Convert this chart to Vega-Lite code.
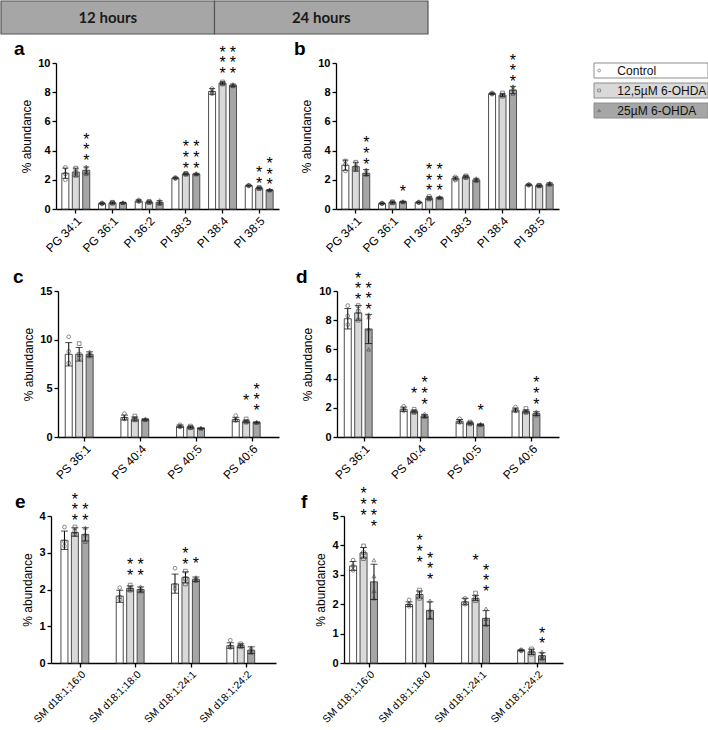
{
"$schema":"https://vega.github.io/schema/vega-lite/v6.json",
"padding":0,
"background":"white",
"config":{
 "font":"Liberation Sans",
 "view":{"stroke":null},
 "axis":{"domainColor":"#000","domainWidth":1.3,"tickColor":"#000","tickWidth":1.3,"tickSize":4,"labelColor":"#000","titleColor":"#000","grid":false,"titleFontWeight":"normal","titleFontSize":12,"labelPadding":2,"labelFont":"Liberation Sans","titleFont":"Liberation Sans"},
 "axisY":{"labelFontWeight":"bold","labelFontSize":11,"titlePadding":4},
 "axisX":{"labelAngle":-45,"labelFontSize":12},
 "title":{"font":"Liberation Sans","fontSize":19,"fontWeight":"bold","color":"#000","anchor":"start","frame":"group","baseline":"alphabetic","offset":0}
},
"datasets":{
"bars":[
{"p":"a","c":"PG 34:1","g":"C","m":2.45,"lo":2.1,"hi":2.8},{"p":"a","c":"PG 34:1","g":"L","m":2.53,"lo":2.25,"hi":2.8},{"p":"a","c":"PG 34:1","g":"H","m":2.65,"lo":2.4,"hi":2.88},
{"p":"a","c":"PG 36:1","g":"C","m":0.38,"lo":0.33,"hi":0.43},{"p":"a","c":"PG 36:1","g":"L","m":0.42,"lo":0.37,"hi":0.47},{"p":"a","c":"PG 36:1","g":"H","m":0.43,"lo":0.4,"hi":0.46},
{"p":"a","c":"PI 36:2","g":"C","m":0.55,"lo":0.47,"hi":0.63},{"p":"a","c":"PI 36:2","g":"L","m":0.47,"lo":0.41,"hi":0.53},{"p":"a","c":"PI 36:2","g":"H","m":0.45,"lo":0.33,"hi":0.57},
{"p":"a","c":"PI 38:3","g":"C","m":2.12,"lo":2.07,"hi":2.17},{"p":"a","c":"PI 38:3","g":"L","m":2.4,"lo":2.35,"hi":2.45},{"p":"a","c":"PI 38:3","g":"H","m":2.4,"lo":2.35,"hi":2.45},
{"p":"a","c":"PI 38:4","g":"C","m":8.05,"lo":7.85,"hi":8.25},{"p":"a","c":"PI 38:4","g":"L","m":8.62,"lo":8.54,"hi":8.7},{"p":"a","c":"PI 38:4","g":"H","m":8.48,"lo":8.4,"hi":8.56},
{"p":"a","c":"PI 38:5","g":"C","m":1.6,"lo":1.56,"hi":1.64},{"p":"a","c":"PI 38:5","g":"L","m":1.43,"lo":1.38,"hi":1.48},{"p":"a","c":"PI 38:5","g":"H","m":1.3,"lo":1.26,"hi":1.34},
{"p":"b","c":"PG 34:1","g":"C","m":3.0,"lo":2.65,"hi":3.35},{"p":"b","c":"PG 34:1","g":"L","m":2.9,"lo":2.6,"hi":3.2},{"p":"b","c":"PG 34:1","g":"H","m":2.45,"lo":2.3,"hi":2.7},
{"p":"b","c":"PG 36:1","g":"C","m":0.38,"lo":0.34,"hi":0.42},{"p":"b","c":"PG 36:1","g":"L","m":0.45,"lo":0.4,"hi":0.5},{"p":"b","c":"PG 36:1","g":"H","m":0.5,"lo":0.46,"hi":0.54},
{"p":"b","c":"PI 36:2","g":"C","m":0.45,"lo":0.41,"hi":0.49},{"p":"b","c":"PI 36:2","g":"L","m":0.75,"lo":0.66,"hi":0.84},{"p":"b","c":"PI 36:2","g":"H","m":0.78,"lo":0.73,"hi":0.83},
{"p":"b","c":"PI 38:3","g":"C","m":2.1,"lo":2.0,"hi":2.2},{"p":"b","c":"PI 38:3","g":"L","m":2.2,"lo":2.13,"hi":2.27},{"p":"b","c":"PI 38:3","g":"H","m":2.0,"lo":1.9,"hi":2.1},
{"p":"b","c":"PI 38:4","g":"C","m":7.9,"lo":7.85,"hi":7.95},{"p":"b","c":"PI 38:4","g":"L","m":7.8,"lo":7.7,"hi":7.9},{"p":"b","c":"PI 38:4","g":"H","m":8.15,"lo":7.9,"hi":8.4},
{"p":"b","c":"PI 38:5","g":"C","m":1.65,"lo":1.6,"hi":1.7},{"p":"b","c":"PI 38:5","g":"L","m":1.6,"lo":1.55,"hi":1.65},{"p":"b","c":"PI 38:5","g":"H","m":1.72,"lo":1.64,"hi":1.8},
{"p":"c","c":"PS 36:1","g":"C","m":8.5,"lo":7.3,"hi":9.7},{"p":"c","c":"PS 36:1","g":"L","m":8.5,"lo":7.8,"hi":9.2},{"p":"c","c":"PS 36:1","g":"H","m":8.5,"lo":8.25,"hi":8.75},
{"p":"c","c":"PS 40:4","g":"C","m":2.0,"lo":1.75,"hi":2.25},{"p":"c","c":"PS 40:4","g":"L","m":1.85,"lo":1.65,"hi":2.05},{"p":"c","c":"PS 40:4","g":"H","m":1.8,"lo":1.72,"hi":1.88},
{"p":"c","c":"PS 40:5","g":"C","m":1.1,"lo":0.97,"hi":1.23},{"p":"c","c":"PS 40:5","g":"L","m":1.0,"lo":0.9,"hi":1.1},{"p":"c","c":"PS 40:5","g":"H","m":0.9,"lo":0.86,"hi":0.94},
{"p":"c","c":"PS 40:6","g":"C","m":1.8,"lo":1.58,"hi":2.02},{"p":"c","c":"PS 40:6","g":"L","m":1.6,"lo":1.47,"hi":1.73},{"p":"c","c":"PS 40:6","g":"H","m":1.5,"lo":1.44,"hi":1.56},
{"p":"d","c":"PS 36:1","g":"C","m":8.1,"lo":7.4,"hi":8.8},{"p":"d","c":"PS 36:1","g":"L","m":8.5,"lo":8.0,"hi":9.0},{"p":"d","c":"PS 36:1","g":"H","m":7.4,"lo":6.4,"hi":8.4},
{"p":"d","c":"PS 40:4","g":"C","m":1.9,"lo":1.75,"hi":2.05},{"p":"d","c":"PS 40:4","g":"L","m":1.75,"lo":1.66,"hi":1.84},{"p":"d","c":"PS 40:4","g":"H","m":1.45,"lo":1.35,"hi":1.55},
{"p":"d","c":"PS 40:5","g":"C","m":1.08,"lo":0.95,"hi":1.2},{"p":"d","c":"PS 40:5","g":"L","m":0.95,"lo":0.88,"hi":1.02},{"p":"d","c":"PS 40:5","g":"H","m":0.85,"lo":0.8,"hi":0.9},
{"p":"d","c":"PS 40:6","g":"C","m":1.85,"lo":1.72,"hi":1.98},{"p":"d","c":"PS 40:6","g":"L","m":1.75,"lo":1.65,"hi":1.85},{"p":"d","c":"PS 40:6","g":"H","m":1.6,"lo":1.47,"hi":1.73},
{"p":"e","c":"SM d18:1;16:0","g":"C","m":3.34,"lo":3.09,"hi":3.59},{"p":"e","c":"SM d18:1;16:0","g":"L","m":3.55,"lo":3.45,"hi":3.68},{"p":"e","c":"SM d18:1;16:0","g":"H","m":3.5,"lo":3.32,"hi":3.68},
{"p":"e","c":"SM d18:1;18:0","g":"C","m":1.82,"lo":1.65,"hi":1.98},{"p":"e","c":"SM d18:1;18:0","g":"L","m":2.03,"lo":1.96,"hi":2.1},{"p":"e","c":"SM d18:1;18:0","g":"H","m":2.0,"lo":1.93,"hi":2.07},
{"p":"e","c":"SM d18:1;24:1","g":"C","m":2.15,"lo":1.9,"hi":2.42},{"p":"e","c":"SM d18:1;24:1","g":"L","m":2.33,"lo":2.18,"hi":2.48},{"p":"e","c":"SM d18:1;24:1","g":"H","m":2.28,"lo":2.22,"hi":2.34},
{"p":"e","c":"SM d18:1;24:2","g":"C","m":0.47,"lo":0.4,"hi":0.55},{"p":"e","c":"SM d18:1;24:2","g":"L","m":0.47,"lo":0.42,"hi":0.52},{"p":"e","c":"SM d18:1;24:2","g":"H","m":0.35,"lo":0.26,"hi":0.44},
{"p":"f","c":"SM d18:1;16:0","g":"C","m":3.3,"lo":3.15,"hi":3.45},{"p":"f","c":"SM d18:1;16:0","g":"L","m":3.75,"lo":3.57,"hi":3.93},{"p":"f","c":"SM d18:1;16:0","g":"H","m":2.76,"lo":2.16,"hi":3.36},
{"p":"f","c":"SM d18:1;18:0","g":"C","m":1.99,"lo":1.92,"hi":2.08},{"p":"f","c":"SM d18:1;18:0","g":"L","m":2.33,"lo":2.21,"hi":2.45},{"p":"f","c":"SM d18:1;18:0","g":"H","m":1.79,"lo":1.5,"hi":2.08},
{"p":"f","c":"SM d18:1;24:1","g":"C","m":2.08,"lo":1.98,"hi":2.2},{"p":"f","c":"SM d18:1;24:1","g":"L","m":2.2,"lo":2.12,"hi":2.3},{"p":"f","c":"SM d18:1;24:1","g":"H","m":1.52,"lo":1.28,"hi":1.78},
{"p":"f","c":"SM d18:1;24:2","g":"C","m":0.43,"lo":0.41,"hi":0.45},{"p":"f","c":"SM d18:1;24:2","g":"L","m":0.38,"lo":0.29,"hi":0.47},{"p":"f","c":"SM d18:1;24:2","g":"H","m":0.25,"lo":0.13,"hi":0.35}
],
"pts":[
{"p":"a","c":"PG 34:1","g":"C","v":2.85},{"p":"a","c":"PG 34:1","g":"C","v":2.4},{"p":"a","c":"PG 34:1","g":"C","v":2.0},
{"p":"a","c":"PG 34:1","g":"L","v":2.8},{"p":"a","c":"PG 34:1","g":"L","v":2.5},{"p":"a","c":"PG 34:1","g":"L","v":2.3},
{"p":"a","c":"PG 34:1","g":"H","v":2.9},{"p":"a","c":"PG 34:1","g":"H","v":2.6},{"p":"a","c":"PG 34:1","g":"H","v":2.4},
{"p":"a","c":"PG 36:1","g":"C","v":0.42},{"p":"a","c":"PG 36:1","g":"C","v":0.35},{"p":"a","c":"PG 36:1","g":"C","v":0.38},
{"p":"a","c":"PG 36:1","g":"L","v":0.46},{"p":"a","c":"PG 36:1","g":"L","v":0.4},{"p":"a","c":"PG 36:1","g":"L","v":0.42},
{"p":"a","c":"PG 36:1","g":"H","v":0.46},{"p":"a","c":"PG 36:1","g":"H","v":0.42},{"p":"a","c":"PG 36:1","g":"H","v":0.43},
{"p":"a","c":"PI 36:2","g":"C","v":0.62},{"p":"a","c":"PI 36:2","g":"C","v":0.5},{"p":"a","c":"PI 36:2","g":"C","v":0.55},
{"p":"a","c":"PI 36:2","g":"L","v":0.52},{"p":"a","c":"PI 36:2","g":"L","v":0.44},{"p":"a","c":"PI 36:2","g":"L","v":0.47},
{"p":"a","c":"PI 36:2","g":"H","v":0.6},{"p":"a","c":"PI 36:2","g":"H","v":0.45},{"p":"a","c":"PI 36:2","g":"H","v":0.35},
{"p":"a","c":"PI 38:3","g":"C","v":2.16},{"p":"a","c":"PI 38:3","g":"C","v":2.1},{"p":"a","c":"PI 38:3","g":"C","v":2.1},
{"p":"a","c":"PI 38:3","g":"L","v":2.44},{"p":"a","c":"PI 38:3","g":"L","v":2.38},{"p":"a","c":"PI 38:3","g":"L","v":2.4},
{"p":"a","c":"PI 38:3","g":"H","v":2.45},{"p":"a","c":"PI 38:3","g":"H","v":2.38},{"p":"a","c":"PI 38:3","g":"H","v":2.4},
{"p":"a","c":"PI 38:4","g":"C","v":8.25},{"p":"a","c":"PI 38:4","g":"C","v":8.0},{"p":"a","c":"PI 38:4","g":"C","v":7.9},
{"p":"a","c":"PI 38:4","g":"L","v":8.7},{"p":"a","c":"PI 38:4","g":"L","v":8.6},{"p":"a","c":"PI 38:4","g":"L","v":8.56},
{"p":"a","c":"PI 38:4","g":"H","v":8.55},{"p":"a","c":"PI 38:4","g":"H","v":8.45},{"p":"a","c":"PI 38:4","g":"H","v":8.42},
{"p":"a","c":"PI 38:5","g":"C","v":1.63},{"p":"a","c":"PI 38:5","g":"C","v":1.58},{"p":"a","c":"PI 38:5","g":"C","v":1.6},
{"p":"a","c":"PI 38:5","g":"L","v":1.48},{"p":"a","c":"PI 38:5","g":"L","v":1.4},{"p":"a","c":"PI 38:5","g":"L","v":1.42},
{"p":"a","c":"PI 38:5","g":"H","v":1.33},{"p":"a","c":"PI 38:5","g":"H","v":1.28},{"p":"a","c":"PI 38:5","g":"H","v":1.3},
{"p":"b","c":"PG 34:1","g":"C","v":3.3},{"p":"b","c":"PG 34:1","g":"C","v":3.05},{"p":"b","c":"PG 34:1","g":"C","v":2.6},
{"p":"b","c":"PG 34:1","g":"L","v":3.2},{"p":"b","c":"PG 34:1","g":"L","v":2.85},{"p":"b","c":"PG 34:1","g":"L","v":2.7},
{"p":"b","c":"PG 34:1","g":"H","v":2.7},{"p":"b","c":"PG 34:1","g":"H","v":2.5},{"p":"b","c":"PG 34:1","g":"H","v":2.35},
{"p":"b","c":"PG 36:1","g":"C","v":0.41},{"p":"b","c":"PG 36:1","g":"C","v":0.37},{"p":"b","c":"PG 36:1","g":"C","v":0.36},
{"p":"b","c":"PG 36:1","g":"L","v":0.5},{"p":"b","c":"PG 36:1","g":"L","v":0.44},{"p":"b","c":"PG 36:1","g":"L","v":0.42},
{"p":"b","c":"PG 36:1","g":"H","v":0.53},{"p":"b","c":"PG 36:1","g":"H","v":0.5},{"p":"b","c":"PG 36:1","g":"H","v":0.47},
{"p":"b","c":"PI 36:2","g":"C","v":0.48},{"p":"b","c":"PI 36:2","g":"C","v":0.44},{"p":"b","c":"PI 36:2","g":"C","v":0.43},
{"p":"b","c":"PI 36:2","g":"L","v":0.85},{"p":"b","c":"PI 36:2","g":"L","v":0.72},{"p":"b","c":"PI 36:2","g":"L","v":0.68},
{"p":"b","c":"PI 36:2","g":"H","v":0.82},{"p":"b","c":"PI 36:2","g":"H","v":0.78},{"p":"b","c":"PI 36:2","g":"H","v":0.75},
{"p":"b","c":"PI 38:3","g":"C","v":2.2},{"p":"b","c":"PI 38:3","g":"C","v":2.05},{"p":"b","c":"PI 38:3","g":"C","v":1.98},
{"p":"b","c":"PI 38:3","g":"L","v":2.27},{"p":"b","c":"PI 38:3","g":"L","v":2.2},{"p":"b","c":"PI 38:3","g":"L","v":2.15},
{"p":"b","c":"PI 38:3","g":"H","v":2.1},{"p":"b","c":"PI 38:3","g":"H","v":2.0},{"p":"b","c":"PI 38:3","g":"H","v":1.92},
{"p":"b","c":"PI 38:4","g":"C","v":7.95},{"p":"b","c":"PI 38:4","g":"C","v":7.9},{"p":"b","c":"PI 38:4","g":"C","v":7.86},
{"p":"b","c":"PI 38:4","g":"L","v":7.95},{"p":"b","c":"PI 38:4","g":"L","v":7.8},{"p":"b","c":"PI 38:4","g":"L","v":7.72},
{"p":"b","c":"PI 38:4","g":"H","v":8.4},{"p":"b","c":"PI 38:4","g":"H","v":8.2},{"p":"b","c":"PI 38:4","g":"H","v":7.9},
{"p":"b","c":"PI 38:5","g":"C","v":1.68},{"p":"b","c":"PI 38:5","g":"C","v":1.63},{"p":"b","c":"PI 38:5","g":"C","v":1.65},
{"p":"b","c":"PI 38:5","g":"L","v":1.63},{"p":"b","c":"PI 38:5","g":"L","v":1.58},{"p":"b","c":"PI 38:5","g":"L","v":1.6},
{"p":"b","c":"PI 38:5","g":"H","v":1.8},{"p":"b","c":"PI 38:5","g":"H","v":1.7},{"p":"b","c":"PI 38:5","g":"H","v":1.68},
{"p":"c","c":"PS 36:1","g":"C","v":10.3},{"p":"c","c":"PS 36:1","g":"C","v":8.8},{"p":"c","c":"PS 36:1","g":"C","v":7.6},
{"p":"c","c":"PS 36:1","g":"L","v":9.6},{"p":"c","c":"PS 36:1","g":"L","v":8.5},{"p":"c","c":"PS 36:1","g":"L","v":8.1},
{"p":"c","c":"PS 36:1","g":"H","v":8.75},{"p":"c","c":"PS 36:1","g":"H","v":8.55},{"p":"c","c":"PS 36:1","g":"H","v":8.3},
{"p":"c","c":"PS 40:4","g":"C","v":2.4},{"p":"c","c":"PS 40:4","g":"C","v":1.9},{"p":"c","c":"PS 40:4","g":"C","v":1.85},
{"p":"c","c":"PS 40:4","g":"L","v":2.15},{"p":"c","c":"PS 40:4","g":"L","v":1.9},{"p":"c","c":"PS 40:4","g":"L","v":1.75},
{"p":"c","c":"PS 40:4","g":"H","v":1.88},{"p":"c","c":"PS 40:4","g":"H","v":1.8},{"p":"c","c":"PS 40:4","g":"H","v":1.75},
{"p":"c","c":"PS 40:5","g":"C","v":1.25},{"p":"c","c":"PS 40:5","g":"C","v":1.1},{"p":"c","c":"PS 40:5","g":"C","v":1.02},
{"p":"c","c":"PS 40:5","g":"L","v":1.12},{"p":"c","c":"PS 40:5","g":"L","v":0.98},{"p":"c","c":"PS 40:5","g":"L","v":0.95},
{"p":"c","c":"PS 40:5","g":"H","v":0.93},{"p":"c","c":"PS 40:5","g":"H","v":0.9},{"p":"c","c":"PS 40:5","g":"H","v":0.88},
{"p":"c","c":"PS 40:6","g":"C","v":2.2},{"p":"c","c":"PS 40:6","g":"C","v":1.75},{"p":"c","c":"PS 40:6","g":"C","v":1.7},
{"p":"c","c":"PS 40:6","g":"L","v":1.85},{"p":"c","c":"PS 40:6","g":"L","v":1.6},{"p":"c","c":"PS 40:6","g":"L","v":1.52},
{"p":"c","c":"PS 40:6","g":"H","v":1.55},{"p":"c","c":"PS 40:6","g":"H","v":1.5},{"p":"c","c":"PS 40:6","g":"H","v":1.47},
{"p":"d","c":"PS 36:1","g":"C","v":9.0},{"p":"d","c":"PS 36:1","g":"C","v":8.3},{"p":"d","c":"PS 36:1","g":"C","v":7.7},
{"p":"d","c":"PS 36:1","g":"L","v":9.0},{"p":"d","c":"PS 36:1","g":"L","v":8.6},{"p":"d","c":"PS 36:1","g":"L","v":8.0},
{"p":"d","c":"PS 36:1","g":"H","v":8.4},{"p":"d","c":"PS 36:1","g":"H","v":8.2},{"p":"d","c":"PS 36:1","g":"H","v":7.4},{"p":"d","c":"PS 36:1","g":"H","v":6.0},
{"p":"d","c":"PS 40:4","g":"C","v":2.1},{"p":"d","c":"PS 40:4","g":"C","v":1.9},{"p":"d","c":"PS 40:4","g":"C","v":1.8},
{"p":"d","c":"PS 40:4","g":"L","v":1.9},{"p":"d","c":"PS 40:4","g":"L","v":1.75},{"p":"d","c":"PS 40:4","g":"L","v":1.68},
{"p":"d","c":"PS 40:4","g":"H","v":1.6},{"p":"d","c":"PS 40:4","g":"H","v":1.45},{"p":"d","c":"PS 40:4","g":"H","v":1.38},
{"p":"d","c":"PS 40:5","g":"C","v":1.25},{"p":"d","c":"PS 40:5","g":"C","v":1.05},{"p":"d","c":"PS 40:5","g":"C","v":1.0},
{"p":"d","c":"PS 40:5","g":"L","v":1.02},{"p":"d","c":"PS 40:5","g":"L","v":0.95},{"p":"d","c":"PS 40:5","g":"L","v":0.9},
{"p":"d","c":"PS 40:5","g":"H","v":0.9},{"p":"d","c":"PS 40:5","g":"H","v":0.85},{"p":"d","c":"PS 40:5","g":"H","v":0.82},
{"p":"d","c":"PS 40:6","g":"C","v":2.05},{"p":"d","c":"PS 40:6","g":"C","v":1.85},{"p":"d","c":"PS 40:6","g":"C","v":1.78},
{"p":"d","c":"PS 40:6","g":"L","v":1.95},{"p":"d","c":"PS 40:6","g":"L","v":1.75},{"p":"d","c":"PS 40:6","g":"L","v":1.68},
{"p":"d","c":"PS 40:6","g":"H","v":1.75},{"p":"d","c":"PS 40:6","g":"H","v":1.6},{"p":"d","c":"PS 40:6","g":"H","v":1.48},
{"p":"e","c":"SM d18:1;16:0","g":"C","v":3.7},{"p":"e","c":"SM d18:1;16:0","g":"C","v":3.3},{"p":"e","c":"SM d18:1;16:0","g":"C","v":3.18},
{"p":"e","c":"SM d18:1;16:0","g":"L","v":3.7},{"p":"e","c":"SM d18:1;16:0","g":"L","v":3.58},{"p":"e","c":"SM d18:1;16:0","g":"L","v":3.5},
{"p":"e","c":"SM d18:1;16:0","g":"H","v":3.68},{"p":"e","c":"SM d18:1;16:0","g":"H","v":3.5},{"p":"e","c":"SM d18:1;16:0","g":"H","v":3.3},
{"p":"e","c":"SM d18:1;18:0","g":"C","v":2.05},{"p":"e","c":"SM d18:1;18:0","g":"C","v":1.8},{"p":"e","c":"SM d18:1;18:0","g":"C","v":1.72},
{"p":"e","c":"SM d18:1;18:0","g":"L","v":2.12},{"p":"e","c":"SM d18:1;18:0","g":"L","v":2.03},{"p":"e","c":"SM d18:1;18:0","g":"L","v":1.98},
{"p":"e","c":"SM d18:1;18:0","g":"H","v":2.08},{"p":"e","c":"SM d18:1;18:0","g":"H","v":2.0},{"p":"e","c":"SM d18:1;18:0","g":"H","v":1.95},
{"p":"e","c":"SM d18:1;24:1","g":"C","v":2.58},{"p":"e","c":"SM d18:1;24:1","g":"C","v":2.12},{"p":"e","c":"SM d18:1;24:1","g":"C","v":2.02},
{"p":"e","c":"SM d18:1;24:1","g":"L","v":2.5},{"p":"e","c":"SM d18:1;24:1","g":"L","v":2.3},{"p":"e","c":"SM d18:1;24:1","g":"L","v":2.15},
{"p":"e","c":"SM d18:1;24:1","g":"H","v":2.33},{"p":"e","c":"SM d18:1;24:1","g":"H","v":2.28},{"p":"e","c":"SM d18:1;24:1","g":"H","v":2.24},
{"p":"e","c":"SM d18:1;24:2","g":"C","v":0.62},{"p":"e","c":"SM d18:1;24:2","g":"C","v":0.45},{"p":"e","c":"SM d18:1;24:2","g":"C","v":0.42},
{"p":"e","c":"SM d18:1;24:2","g":"L","v":0.52},{"p":"e","c":"SM d18:1;24:2","g":"L","v":0.47},{"p":"e","c":"SM d18:1;24:2","g":"L","v":0.44},
{"p":"e","c":"SM d18:1;24:2","g":"H","v":0.42},{"p":"e","c":"SM d18:1;24:2","g":"H","v":0.35},{"p":"e","c":"SM d18:1;24:2","g":"H","v":0.28},
{"p":"f","c":"SM d18:1;16:0","g":"C","v":3.5},{"p":"f","c":"SM d18:1;16:0","g":"C","v":3.3},{"p":"f","c":"SM d18:1;16:0","g":"C","v":3.15},
{"p":"f","c":"SM d18:1;16:0","g":"L","v":3.98},{"p":"f","c":"SM d18:1;16:0","g":"L","v":3.75},{"p":"f","c":"SM d18:1;16:0","g":"L","v":3.55},
{"p":"f","c":"SM d18:1;16:0","g":"H","v":3.5},{"p":"f","c":"SM d18:1;16:0","g":"H","v":2.95},{"p":"f","c":"SM d18:1;16:0","g":"H","v":2.45},{"p":"f","c":"SM d18:1;16:0","g":"H","v":2.2},
{"p":"f","c":"SM d18:1;18:0","g":"C","v":2.15},{"p":"f","c":"SM d18:1;18:0","g":"C","v":2.0},{"p":"f","c":"SM d18:1;18:0","g":"C","v":1.93},
{"p":"f","c":"SM d18:1;18:0","g":"L","v":2.48},{"p":"f","c":"SM d18:1;18:0","g":"L","v":2.35},{"p":"f","c":"SM d18:1;18:0","g":"L","v":2.2},
{"p":"f","c":"SM d18:1;18:0","g":"H","v":2.12},{"p":"f","c":"SM d18:1;18:0","g":"H","v":1.8},{"p":"f","c":"SM d18:1;18:0","g":"H","v":1.55},
{"p":"f","c":"SM d18:1;24:1","g":"C","v":2.2},{"p":"f","c":"SM d18:1;24:1","g":"C","v":2.05},{"p":"f","c":"SM d18:1;24:1","g":"C","v":2.0},
{"p":"f","c":"SM d18:1;24:1","g":"L","v":2.38},{"p":"f","c":"SM d18:1;24:1","g":"L","v":2.2},{"p":"f","c":"SM d18:1;24:1","g":"L","v":2.12},
{"p":"f","c":"SM d18:1;24:1","g":"H","v":1.85},{"p":"f","c":"SM d18:1;24:1","g":"H","v":1.5},{"p":"f","c":"SM d18:1;24:1","g":"H","v":1.3},
{"p":"f","c":"SM d18:1;24:2","g":"C","v":0.45},{"p":"f","c":"SM d18:1;24:2","g":"C","v":0.43},{"p":"f","c":"SM d18:1;24:2","g":"C","v":0.41},
{"p":"f","c":"SM d18:1;24:2","g":"L","v":0.48},{"p":"f","c":"SM d18:1;24:2","g":"L","v":0.4},{"p":"f","c":"SM d18:1;24:2","g":"L","v":0.3},
{"p":"f","c":"SM d18:1;24:2","g":"H","v":0.38},{"p":"f","c":"SM d18:1;24:2","g":"H","v":0.25},{"p":"f","c":"SM d18:1;24:2","g":"H","v":0.15}
],
"stars":[
{"p":"a","c":"PG 34:1","g":"H","s":"*\n*\n*","sy":5.03},
{"p":"a","c":"PI 38:3","g":"L","s":"*\n*\n*","sy":4.5},{"p":"a","c":"PI 38:3","g":"H","s":"*\n*\n*","sy":4.5},
{"p":"a","c":"PI 38:4","g":"L","s":"*\n*\n*","sy":10.99},{"p":"a","c":"PI 38:4","g":"H","s":"*\n*\n*","sy":10.99},
{"p":"a","c":"PI 38:5","g":"L","s":"*\n*","sy":2.73},{"p":"a","c":"PI 38:5","g":"H","s":"*\n*\n*","sy":3.37},
{"p":"b","c":"PG 34:1","g":"H","s":"*\n*\n*","sy":4.78},{"p":"b","c":"PG 36:1","g":"H","s":"*","sy":1.44},
{"p":"b","c":"PI 36:2","g":"L","s":"*\n*\n*","sy":2.95},{"p":"b","c":"PI 36:2","g":"H","s":"*\n*\n*","sy":2.95},
{"p":"b","c":"PI 38:4","g":"H","s":"*\n*\n*","sy":10.44},
{"p":"c","c":"PS 40:6","g":"L","s":"*","sy":4.14},{"p":"c","c":"PS 40:6","g":"H","s":"*\n*\n*","sy":5.27},
{"p":"d","c":"PS 36:1","g":"L","s":"*\n*\n*","sy":11.13},{"p":"d","c":"PS 36:1","g":"H","s":"*\n*\n*","sy":10.44},
{"p":"d","c":"PS 40:4","g":"L","s":"*","sy":3.2},{"p":"d","c":"PS 40:4","g":"H","s":"*\n*\n*","sy":3.94},
{"p":"d","c":"PS 40:5","g":"H","s":"*","sy":2.08},{"p":"d","c":"PS 40:6","g":"H","s":"*\n*\n*","sy":3.94},
{"p":"e","c":"SM d18:1;16:0","g":"L","s":"*\n*\n*","sy":4.55},{"p":"e","c":"SM d18:1;16:0","g":"H","s":"*\n*","sy":4.26},
{"p":"e","c":"SM d18:1;18:0","g":"L","s":"*\n*","sy":2.77},{"p":"e","c":"SM d18:1;18:0","g":"H","s":"*\n*","sy":2.77},
{"p":"e","c":"SM d18:1;24:1","g":"L","s":"*\n*","sy":3.08},{"p":"e","c":"SM d18:1;24:1","g":"H","s":"*","sy":2.79},
{"p":"f","c":"SM d18:1;16:0","g":"L","s":"*\n*\n*","sy":5.87},{"p":"f","c":"SM d18:1;16:0","g":"H","s":"*\n*\n*","sy":5.5},
{"p":"f","c":"SM d18:1;18:0","g":"L","s":"*\n*\n*","sy":4.28},{"p":"f","c":"SM d18:1;18:0","g":"H","s":"*\n*\n*","sy":3.69},
{"p":"f","c":"SM d18:1;24:1","g":"L","s":"*","sy":3.6},{"p":"f","c":"SM d18:1;24:1","g":"H","s":"*\n*\n*","sy":3.28},
{"p":"f","c":"SM d18:1;24:2","g":"H","s":"*\n*","sy":1.13}
]
},
"spacing":5,
"vconcat":[
{"width":427,"height":33,
 "data":{"values":[{"h":"12 hours"},{"h":"24 hours"}]},
 "encoding":{"x":{"field":"h","type":"nominal","scale":{"paddingInner":0,"paddingOuter":0},"axis":null}},
 "layer":[
  {"mark":{"type":"rect","fill":"#a6a6a6","stroke":"#555555","strokeWidth":1.2}},
  {"mark":{"type":"text","font":"Lato","fontSize":15,"fontWeight":"bold","color":"#1a1a1a","baseline":"middle"},"encoding":{"text":{"field":"h"}}}
 ]},
{"spacing":14,"vconcat":[
 {"bounds":"flush","spacing":0,"hconcat":[
  {"width":55,"height":1,"data":{"values":[]},"mark":"point","title":{"text":"a","dx":13}},
  {"width":223,"height":146,
   "encoding":{"x":{"field":"c","type":"nominal","title":null,"scale":{"paddingInner":0.24,"paddingOuter":0.16}},
    "xOffset":{"field":"g","type":"nominal","scale":{"domain":["C","L","H"],"paddingInner":0.33,"paddingOuter":0}}},
   "layer":[
    {"data":{"name":"bars"},"transform":[{"filter":"datum.p=='a'"}],"mark":{"type":"bar","stroke":"#4d4d4d","strokeWidth":1},
     "encoding":{"y":{"field":"m","type":"quantitative","scale":{"domain":[0,10],"nice":false},"axis":{"title":"% abundance","values":[0,2,4,6,8,10]}},
      "fill":{"field":"g","type":"nominal","scale":{"domain":["C","L","H"],"range":["#ffffff","#d9d9d9","#a6a6a6"]},"legend":null}}},
    {"data":{"name":"bars"},"transform":[{"filter":"datum.p=='a'"}],"mark":{"type":"rule","color":"#000","strokeWidth":1},
     "encoding":{"y":{"field":"lo","type":"quantitative","scale":{"domain":[0,10],"nice":false},"axis":{"title":"% abundance","values":[0,2,4,6,8,10]}},"y2":{"field":"hi"}}},
    {"data":{"name":"bars"},"transform":[{"filter":"datum.p=='a'"}],"mark":{"type":"tick","color":"#000","thickness":1,"size":6},
     "encoding":{"y":{"field":"lo","type":"quantitative","scale":{"domain":[0,10],"nice":false},"axis":{"title":"% abundance","values":[0,2,4,6,8,10]}}}},
    {"data":{"name":"bars"},"transform":[{"filter":"datum.p=='a'"}],"mark":{"type":"tick","color":"#000","thickness":1,"size":6},
     "encoding":{"y":{"field":"hi","type":"quantitative","scale":{"domain":[0,10],"nice":false},"axis":{"title":"% abundance","values":[0,2,4,6,8,10]}}}},
    {"data":{"name":"pts"},"transform":[{"filter":"datum.p=='a'"}],"mark":{"type":"point","filled":false,"size":14,"strokeWidth":0.8,"color":"#333"},
     "encoding":{"y":{"field":"v","type":"quantitative","scale":{"domain":[0,10],"nice":false},"axis":{"title":"% abundance","values":[0,2,4,6,8,10]}},
      "shape":{"field":"g","type":"nominal","scale":{"domain":["C","L","H"],"range":["circle","square","triangle-up"]},"legend":null}}},
    {"data":{"name":"stars"},"transform":[{"filter":"datum.p=='a'"}],"mark":{"type":"text","lineBreak":"\n","lineHeight":10.7,"baseline":"alphabetic","fontSize":16,"dy":9,"color":"#000"},
     "encoding":{"y":{"field":"sy","type":"quantitative","scale":{"domain":[0,10],"nice":false},"axis":{"title":"% abundance","values":[0,2,4,6,8,10]}},"text":{"field":"s"}}}
   ]},
  {"width":57,"height":1,"data":{"values":[]},"mark":"point","title":{"text":"b","dx":15}},
  {"width":223,"height":146,
   "encoding":{"x":{"field":"c","type":"nominal","title":null,"scale":{"paddingInner":0.24,"paddingOuter":0.16}},
    "xOffset":{"field":"g","type":"nominal","scale":{"domain":["C","L","H"],"paddingInner":0.33,"paddingOuter":0}}},
   "layer":[
    {"data":{"name":"bars"},"transform":[{"filter":"datum.p=='b'"}],"mark":{"type":"bar","stroke":"#4d4d4d","strokeWidth":1},
     "encoding":{"y":{"field":"m","type":"quantitative","scale":{"domain":[0,10],"nice":false},"axis":{"title":"% abundance","values":[0,2,4,6,8,10]}},
      "fill":{"field":"g","type":"nominal","scale":{"domain":["C","L","H"],"range":["#ffffff","#d9d9d9","#a6a6a6"]},"legend":null}}},
    {"data":{"name":"bars"},"transform":[{"filter":"datum.p=='b'"}],"mark":{"type":"rule","color":"#000","strokeWidth":1},
     "encoding":{"y":{"field":"lo","type":"quantitative","scale":{"domain":[0,10],"nice":false},"axis":{"title":"% abundance","values":[0,2,4,6,8,10]}},"y2":{"field":"hi"}}},
    {"data":{"name":"bars"},"transform":[{"filter":"datum.p=='b'"}],"mark":{"type":"tick","color":"#000","thickness":1,"size":6},
     "encoding":{"y":{"field":"lo","type":"quantitative","scale":{"domain":[0,10],"nice":false},"axis":{"title":"% abundance","values":[0,2,4,6,8,10]}}}},
    {"data":{"name":"bars"},"transform":[{"filter":"datum.p=='b'"}],"mark":{"type":"tick","color":"#000","thickness":1,"size":6},
     "encoding":{"y":{"field":"hi","type":"quantitative","scale":{"domain":[0,10],"nice":false},"axis":{"title":"% abundance","values":[0,2,4,6,8,10]}}}},
    {"data":{"name":"pts"},"transform":[{"filter":"datum.p=='b'"}],"mark":{"type":"point","filled":false,"size":14,"strokeWidth":0.8,"color":"#333"},
     "encoding":{"y":{"field":"v","type":"quantitative","scale":{"domain":[0,10],"nice":false},"axis":{"title":"% abundance","values":[0,2,4,6,8,10]}},
      "shape":{"field":"g","type":"nominal","scale":{"domain":["C","L","H"],"range":["circle","square","triangle-up"]},"legend":null}}},
    {"data":{"name":"stars"},"transform":[{"filter":"datum.p=='b'"}],"mark":{"type":"text","lineBreak":"\n","lineHeight":10.7,"baseline":"alphabetic","fontSize":16,"dy":9,"color":"#000"},
     "encoding":{"y":{"field":"sy","type":"quantitative","scale":{"domain":[0,10],"nice":false},"axis":{"title":"% abundance","values":[0,2,4,6,8,10]}},"text":{"field":"s"}}}
   ]},
  {"width":35,"height":1,"data":{"values":[]},"mark":"point"},
  {"width":114,"height":55,
   "data":{"values":[{"g":"C","t":"Control"},{"g":"L","t":"12,5µM 6-OHDA"},{"g":"H","t":"25µM 6-OHDA"}]},
   "encoding":{"y":{"field":"g","type":"nominal","scale":{"domain":["C","L","H"],"paddingInner":0.25,"paddingOuter":0},"axis":null}},
   "layer":[
    {"mark":{"type":"rect","stroke":"#8c8c8c","strokeWidth":1},"encoding":{"fill":{"field":"g","type":"nominal","scale":{"domain":["C","L","H"],"range":["#ffffff","#d9d9d9","#a6a6a6"]},"legend":null}}},
    {"mark":{"type":"point","filled":false,"size":8,"strokeWidth":0.7,"color":"#444"},"encoding":{"x":{"datum":0.045,"type":"quantitative","scale":{"domain":[0,1]},"axis":null},"shape":{"field":"g","type":"nominal","scale":{"domain":["C","L","H"],"range":["circle","square","triangle-up"]},"legend":null}}},
    {"mark":{"type":"text","align":"left","baseline":"middle","fontSize":12,"color":"#111"},"encoding":{"x":{"datum":0.205,"type":"quantitative","scale":{"domain":[0,1]},"axis":null},"text":{"field":"t"}}}
   ]}
 ]},
 {"spacing":5,"vconcat":[
  {"bounds":"flush","spacing":0,"hconcat":[
   {"width":57,"height":1,"data":{"values":[]},"mark":"point","title":{"text":"c","dx":12}},
   {"width":221,"height":146,
    "encoding":{"x":{"field":"c","type":"nominal","title":null,"scale":{"paddingInner":0.29,"paddingOuter":0.13}},
     "xOffset":{"field":"g","type":"nominal","scale":{"domain":["C","L","H"],"paddingInner":0.33,"paddingOuter":0}}},
    "layer":[
     {"data":{"name":"bars"},"transform":[{"filter":"datum.p=='c'"}],"mark":{"type":"bar","stroke":"#4d4d4d","strokeWidth":1},
      "encoding":{"y":{"field":"m","type":"quantitative","scale":{"domain":[0,15],"nice":false},"axis":{"title":"% abundance","values":[0,5,10,15]}},
       "fill":{"field":"g","type":"nominal","scale":{"domain":["C","L","H"],"range":["#ffffff","#d9d9d9","#a6a6a6"]},"legend":null}}},
     {"data":{"name":"bars"},"transform":[{"filter":"datum.p=='c'"}],"mark":{"type":"rule","color":"#000","strokeWidth":1},
      "encoding":{"y":{"field":"lo","type":"quantitative","scale":{"domain":[0,15],"nice":false},"axis":{"title":"% abundance","values":[0,5,10,15]}},"y2":{"field":"hi"}}},
     {"data":{"name":"bars"},"transform":[{"filter":"datum.p=='c'"}],"mark":{"type":"tick","color":"#000","thickness":1,"size":7},
      "encoding":{"y":{"field":"lo","type":"quantitative","scale":{"domain":[0,15],"nice":false},"axis":{"title":"% abundance","values":[0,5,10,15]}}}},
     {"data":{"name":"bars"},"transform":[{"filter":"datum.p=='c'"}],"mark":{"type":"tick","color":"#000","thickness":1,"size":7},
      "encoding":{"y":{"field":"hi","type":"quantitative","scale":{"domain":[0,15],"nice":false},"axis":{"title":"% abundance","values":[0,5,10,15]}}}},
     {"data":{"name":"pts"},"transform":[{"filter":"datum.p=='c'"}],"mark":{"type":"point","filled":false,"size":14,"strokeWidth":0.8,"color":"#333"},
      "encoding":{"y":{"field":"v","type":"quantitative","scale":{"domain":[0,15],"nice":false},"axis":{"title":"% abundance","values":[0,5,10,15]}},
       "shape":{"field":"g","type":"nominal","scale":{"domain":["C","L","H"],"range":["circle","square","triangle-up"]},"legend":null}}},
     {"data":{"name":"stars"},"transform":[{"filter":"datum.p=='c'"}],"mark":{"type":"text","lineBreak":"\n","lineHeight":10.7,"baseline":"alphabetic","fontSize":16,"dy":9,"color":"#000"},
      "encoding":{"y":{"field":"sy","type":"quantitative","scale":{"domain":[0,15],"nice":false},"axis":{"title":"% abundance","values":[0,5,10,15]}},"text":{"field":"s"}}}
    ]},
   {"width":58,"height":1,"data":{"values":[]},"mark":"point","title":{"text":"d","dx":17}},
   {"width":222,"height":146,
    "encoding":{"x":{"field":"c","type":"nominal","title":null,"scale":{"paddingInner":0.29,"paddingOuter":0.13}},
     "xOffset":{"field":"g","type":"nominal","scale":{"domain":["C","L","H"],"paddingInner":0.33,"paddingOuter":0}}},
    "layer":[
     {"data":{"name":"bars"},"transform":[{"filter":"datum.p=='d'"}],"mark":{"type":"bar","stroke":"#4d4d4d","strokeWidth":1},
      "encoding":{"y":{"field":"m","type":"quantitative","scale":{"domain":[0,10],"nice":false},"axis":{"title":"% abundance","values":[0,2,4,6,8,10]}},
       "fill":{"field":"g","type":"nominal","scale":{"domain":["C","L","H"],"range":["#ffffff","#d9d9d9","#a6a6a6"]},"legend":null}}},
     {"data":{"name":"bars"},"transform":[{"filter":"datum.p=='d'"}],"mark":{"type":"rule","color":"#000","strokeWidth":1},
      "encoding":{"y":{"field":"lo","type":"quantitative","scale":{"domain":[0,10],"nice":false},"axis":{"title":"% abundance","values":[0,2,4,6,8,10]}},"y2":{"field":"hi"}}},
     {"data":{"name":"bars"},"transform":[{"filter":"datum.p=='d'"}],"mark":{"type":"tick","color":"#000","thickness":1,"size":7},
      "encoding":{"y":{"field":"lo","type":"quantitative","scale":{"domain":[0,10],"nice":false},"axis":{"title":"% abundance","values":[0,2,4,6,8,10]}}}},
     {"data":{"name":"bars"},"transform":[{"filter":"datum.p=='d'"}],"mark":{"type":"tick","color":"#000","thickness":1,"size":7},
      "encoding":{"y":{"field":"hi","type":"quantitative","scale":{"domain":[0,10],"nice":false},"axis":{"title":"% abundance","values":[0,2,4,6,8,10]}}}},
     {"data":{"name":"pts"},"transform":[{"filter":"datum.p=='d'"}],"mark":{"type":"point","filled":false,"size":14,"strokeWidth":0.8,"color":"#333"},
      "encoding":{"y":{"field":"v","type":"quantitative","scale":{"domain":[0,10],"nice":false},"axis":{"title":"% abundance","values":[0,2,4,6,8,10]}},
       "shape":{"field":"g","type":"nominal","scale":{"domain":["C","L","H"],"range":["circle","square","triangle-up"]},"legend":null}}},
     {"data":{"name":"stars"},"transform":[{"filter":"datum.p=='d'"}],"mark":{"type":"text","lineBreak":"\n","lineHeight":10.7,"baseline":"alphabetic","fontSize":16,"dy":9,"color":"#000"},
      "encoding":{"y":{"field":"sy","type":"quantitative","scale":{"domain":[0,10],"nice":false},"axis":{"title":"% abundance","values":[0,2,4,6,8,10]}},"text":{"field":"s"}}}
    ]}
  ]},
  {"bounds":"flush","spacing":0,"hconcat":[
   {"width":50,"height":1,"data":{"values":[]},"mark":"point","title":{"text":"e","dx":14}},
   {"width":225,"height":147,
    "encoding":{"x":{"field":"c","type":"nominal","title":null,"scale":{"paddingInner":0.29,"paddingOuter":0.18},"axis":{"labelFontSize":10.5}},
     "xOffset":{"field":"g","type":"nominal","scale":{"domain":["C","L","H"],"paddingInner":0.33,"paddingOuter":0}}},
    "layer":[
     {"data":{"name":"bars"},"transform":[{"filter":"datum.p=='e'"}],"mark":{"type":"bar","stroke":"#4d4d4d","strokeWidth":1},
      "encoding":{"y":{"field":"m","type":"quantitative","scale":{"domain":[0,4],"nice":false},"axis":{"title":"% abundance","values":[0,1,2,3,4]}},
       "fill":{"field":"g","type":"nominal","scale":{"domain":["C","L","H"],"range":["#ffffff","#d9d9d9","#a6a6a6"]},"legend":null}}},
     {"data":{"name":"bars"},"transform":[{"filter":"datum.p=='e'"}],"mark":{"type":"rule","color":"#000","strokeWidth":1},
      "encoding":{"y":{"field":"lo","type":"quantitative","scale":{"domain":[0,4],"nice":false},"axis":{"title":"% abundance","values":[0,1,2,3,4]}},"y2":{"field":"hi"}}},
     {"data":{"name":"bars"},"transform":[{"filter":"datum.p=='e'"}],"mark":{"type":"tick","color":"#000","thickness":1,"size":7},
      "encoding":{"y":{"field":"lo","type":"quantitative","scale":{"domain":[0,4],"nice":false},"axis":{"title":"% abundance","values":[0,1,2,3,4]}}}},
     {"data":{"name":"bars"},"transform":[{"filter":"datum.p=='e'"}],"mark":{"type":"tick","color":"#000","thickness":1,"size":7},
      "encoding":{"y":{"field":"hi","type":"quantitative","scale":{"domain":[0,4],"nice":false},"axis":{"title":"% abundance","values":[0,1,2,3,4]}}}},
     {"data":{"name":"pts"},"transform":[{"filter":"datum.p=='e'"}],"mark":{"type":"point","filled":false,"size":14,"strokeWidth":0.8,"color":"#333"},
      "encoding":{"y":{"field":"v","type":"quantitative","scale":{"domain":[0,4],"nice":false},"axis":{"title":"% abundance","values":[0,1,2,3,4]}},
       "shape":{"field":"g","type":"nominal","scale":{"domain":["C","L","H"],"range":["circle","square","triangle-up"]},"legend":null}}},
     {"data":{"name":"stars"},"transform":[{"filter":"datum.p=='e'"}],"mark":{"type":"text","lineBreak":"\n","lineHeight":10.7,"baseline":"alphabetic","fontSize":16,"dy":9,"color":"#000"},
      "encoding":{"y":{"field":"sy","type":"quantitative","scale":{"domain":[0,4],"nice":false},"axis":{"title":"% abundance","values":[0,1,2,3,4]}},"text":{"field":"s"}}}
    ]},
   {"width":68,"height":1,"data":{"values":[]},"mark":"point","title":{"text":"f","dx":25}},
   {"width":219,"height":147,
    "encoding":{"x":{"field":"c","type":"nominal","title":null,"scale":{"paddingInner":0.29,"paddingOuter":0.1},"axis":{"labelFontSize":10.5}},
     "xOffset":{"field":"g","type":"nominal","scale":{"domain":["C","L","H"],"paddingInner":0.33,"paddingOuter":0}}},
    "layer":[
     {"data":{"name":"bars"},"transform":[{"filter":"datum.p=='f'"}],"mark":{"type":"bar","stroke":"#4d4d4d","strokeWidth":1},
      "encoding":{"y":{"field":"m","type":"quantitative","scale":{"domain":[0,5],"nice":false},"axis":{"title":"% abundance","values":[0,1,2,3,4,5]}},
       "fill":{"field":"g","type":"nominal","scale":{"domain":["C","L","H"],"range":["#ffffff","#d9d9d9","#a6a6a6"]},"legend":null}}},
     {"data":{"name":"bars"},"transform":[{"filter":"datum.p=='f'"}],"mark":{"type":"rule","color":"#000","strokeWidth":1},
      "encoding":{"y":{"field":"lo","type":"quantitative","scale":{"domain":[0,5],"nice":false},"axis":{"title":"% abundance","values":[0,1,2,3,4,5]}},"y2":{"field":"hi"}}},
     {"data":{"name":"bars"},"transform":[{"filter":"datum.p=='f'"}],"mark":{"type":"tick","color":"#000","thickness":1,"size":7},
      "encoding":{"y":{"field":"lo","type":"quantitative","scale":{"domain":[0,5],"nice":false},"axis":{"title":"% abundance","values":[0,1,2,3,4,5]}}}},
     {"data":{"name":"bars"},"transform":[{"filter":"datum.p=='f'"}],"mark":{"type":"tick","color":"#000","thickness":1,"size":7},
      "encoding":{"y":{"field":"hi","type":"quantitative","scale":{"domain":[0,5],"nice":false},"axis":{"title":"% abundance","values":[0,1,2,3,4,5]}}}},
     {"data":{"name":"pts"},"transform":[{"filter":"datum.p=='f'"}],"mark":{"type":"point","filled":false,"size":14,"strokeWidth":0.8,"color":"#333"},
      "encoding":{"y":{"field":"v","type":"quantitative","scale":{"domain":[0,5],"nice":false},"axis":{"title":"% abundance","values":[0,1,2,3,4,5]}},
       "shape":{"field":"g","type":"nominal","scale":{"domain":["C","L","H"],"range":["circle","square","triangle-up"]},"legend":null}}},
     {"data":{"name":"stars"},"transform":[{"filter":"datum.p=='f'"}],"mark":{"type":"text","lineBreak":"\n","lineHeight":10.7,"baseline":"alphabetic","fontSize":16,"dy":9,"color":"#000"},
      "encoding":{"y":{"field":"sy","type":"quantitative","scale":{"domain":[0,5],"nice":false},"axis":{"title":"% abundance","values":[0,1,2,3,4,5]}},"text":{"field":"s"}}}
    ]}
  ]}
 ]}
]}
]
}
